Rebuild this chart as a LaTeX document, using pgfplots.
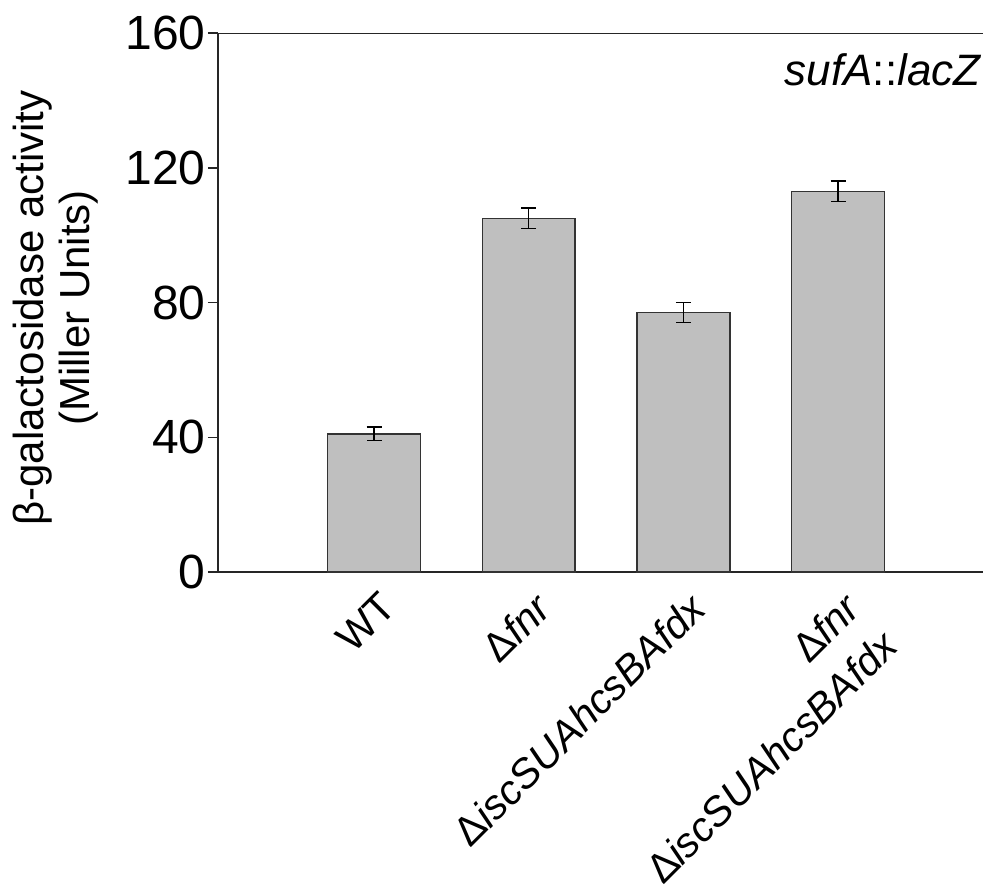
\documentclass[border=0pt]{standalone}
\usepackage{fontspec}
\setmainfont{Liberation Sans}
\usepackage{pgfplots}
\pgfplotsset{compat=1.18}
\begin{document}
\begin{tikzpicture}
\begin{axis}[
  name=ax, at={(0,0)}, anchor=south west,
  scale only axis, width=382.5pt, height=269.5pt,
  xmin=-1.009, xmax=3.937, ymin=0, ymax=160,
  axis x line*=bottom, axis y line*=left,
  axis line style={line width=0.75pt, color=black!85},
  ytick={0,40,80,120,160},
  tick align=outside, major tick length=5pt,
  ytick style={line width=0.75pt, color=black!85},
  yticklabel style={font=\fontsize{24}{28}\selectfont, inner sep=1pt},
  /pgf/number format/assume math mode=true,
  xtick={0,1,2,3},
  xtick style={draw=none},
  xticklabels={WT, Δ\textit{fnr}, Δ\textit{iscSUAhcsBAfdx}, {Δ\textit{fnr}\\Δ\textit{iscSUAhcsBAfdx}}},
  xticklabel style={rotate=45, anchor=north east, inner sep=0pt, align=right,
    font=\fontsize{20.5}{26.5}\selectfont, xshift=-1pt, yshift=-4pt},
  ylabel={β-galactosidase activity\\(Miller Units)},
  ylabel style={at={(rel axis cs:0,0.5)}, anchor=center, align=center,
    font=\fontsize{21}{23}\selectfont, xshift=-2.75pt, yshift=81pt},
  ybar, bar width=0.6,
]
\addplot[fill=black!25, draw=black!80, line width=0.7pt,
  error bars/.cd, y dir=both, y explicit,
  error bar style={line width=0.75pt, color=black},
  error mark options={rotate=90, mark size=3.75pt, line width=0.75pt, color=black}]
  coordinates {(0,41) +- (0,2) (1,105) +- (0,3) (2,77) +- (0,3) (3,113) +- (0,3)};
\draw[line width=0.75pt, color=black!85] (rel axis cs:0,1) -- (rel axis cs:1,1);
\node[anchor=base east, inner sep=0pt, xshift=-0.5pt, yshift=-26pt,
  font=\fontsize{22}{26}\selectfont] at (rel axis cs:1,1) {\textit{sufA}::\textit{lacZ}};
\end{axis}
\pgfresetboundingbox
\path[use as bounding box] (-109pt,-159pt) rectangle (382.5pt,286pt);
\end{tikzpicture}
\end{document}
